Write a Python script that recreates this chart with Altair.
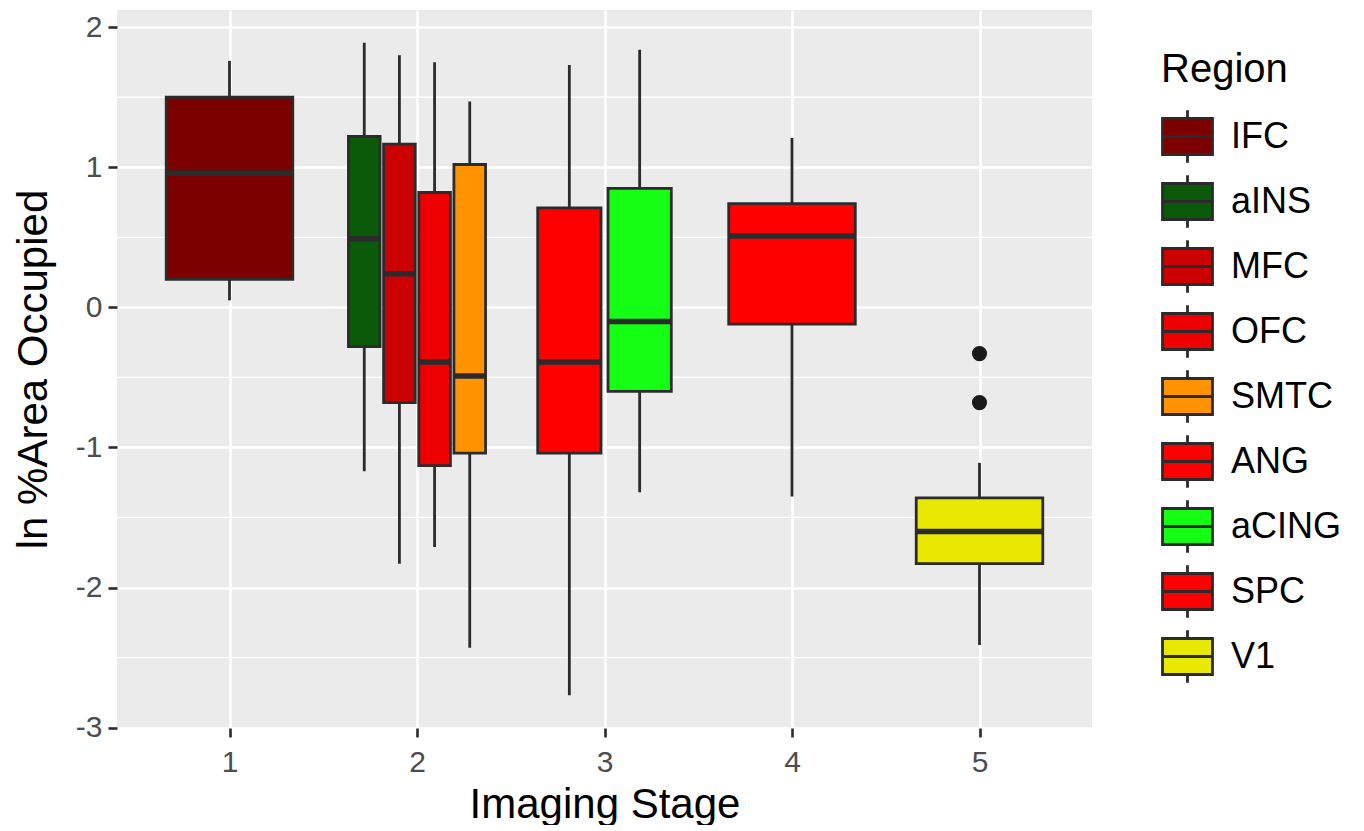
import altair as alt
import pandas as pd

# ---- data ----
regions = ["IFC", "aINS", "MFC", "OFC", "SMTC", "ANG", "aCING", "SPC", "V1"]
stages = [1, 2, 2, 2, 2, 3, 3, 4, 5]
whisker_lo = [0.05, -1.17, -1.83, -1.71, -2.43, -2.77, -1.32, -1.35, -2.41]
q1 = [0.20, -0.28, -0.68, -1.13, -1.04, -1.04, -0.60, -0.12, -1.83]
median = [0.96, 0.49, 0.24, -0.39, -0.49, -0.39, -0.10, 0.51, -1.60]
q3 = [1.50, 1.22, 1.165, 0.82, 1.02, 0.71, 0.85, 0.74, -1.36]
whisker_hi = [1.76, 1.89, 1.80, 1.75, 1.47, 1.73, 1.84, 1.21, -1.11]
outlier_region = ["V1", "V1"]
outlier_value = [-0.33, -0.68]
colors = ["#7d0000", "#0a5a0a", "#cc0000", "#ee0000", "#ff9400",
          "#ff0000", "#14ff14", "#ff0000", "#e8e800"]
stage_ticks = [1, 2, 3, 4, 5]
y_ticks = [-3, -2, -1, 0, 1, 2]
y_minor = [-2.5, -1.5, -0.5, 0.5, 1.5]

# ---- dodge positions (ggplot-like dodge2, width 0.75, padding 0.1) ----
df = pd.DataFrame({"Region": regions, "stage": stages, "lo": whisker_lo,
                   "q1": q1, "med": median, "q3": q3, "hi": whisker_hi})
df["n"] = df.groupby("stage")["Region"].transform("count")
df["i"] = df.groupby("stage").cumcount()
slot = 0.75 / df["n"]
df["xc"] = df["stage"] - 0.375 + slot * (df["i"] + 0.5)
df["x0"] = df["xc"] - slot * 0.45
df["x1"] = df["xc"] + slot * 0.45

out = pd.DataFrame({"Region": outlier_region, "v": outlier_value})
out = out.merge(df[["Region", "xc"]], on="Region")

minor = pd.DataFrame({"y": y_minor})

FONT = "Liberation Sans"
DARK = "#2b2b2b"

xscale = alt.Scale(domain=[0.4, 5.6], nice=False, zero=False)
yscale = alt.Scale(domain=[-3.003, 2.123], nice=False, zero=False)

xaxis = alt.Axis(values=stage_ticks, labelExpr="toString(datum.value)",
                 title="Imaging Stage", labelPadding=10, titlePadding=7)
yaxis = alt.Axis(values=y_ticks, labelExpr="toString(datum.value)",
                 title="ln %Area Occupied", labelPadding=6, titlePadding=20)

glyph = ("M-1,-0.72H1V0.72H-1Z M0,-0.72V-1.05 M0,0.72V1.05 M-1,0H1")

grid = alt.Chart(minor).mark_rule(color="white", strokeWidth=1.3).encode(
    y=alt.Y("y:Q", scale=yscale, axis=yaxis)
)

whisk = alt.Chart(df).mark_rule(color=DARK, strokeWidth=2.8).encode(
    x=alt.X("xc:Q", scale=xscale, axis=xaxis),
    y=alt.Y("lo:Q", scale=yscale, axis=yaxis),
    y2="hi:Q",
)

box = alt.Chart(df).mark_rect(stroke=DARK, strokeWidth=2.8).encode(
    x=alt.X("x0:Q", scale=xscale, axis=xaxis),
    x2="x1:Q",
    y=alt.Y("q1:Q", scale=yscale, axis=yaxis),
    y2="q3:Q",
    fill=alt.Fill(
        "Region:N",
        scale=alt.Scale(domain=regions, range=colors),
        sort=regions,
        legend=alt.Legend(
            title="Region", orient="none", legendX=1044, legendY=40,
            symbolType=glyph, symbolSize=2500,
            symbolStrokeColor=DARK, symbolStrokeWidth=2.8,
            symbolOpacity=1,
            labelFontSize=36, labelFont=FONT, labelColor="black",
            titleFontSize=40, titleFont=FONT, titleColor="black",
            titleFontWeight="normal", titlePadding=20,
            rowPadding=0, labelOffset=17, padding=0,
        ),
    ),
)

med = alt.Chart(df).mark_rule(color=DARK, strokeWidth=5.5).encode(
    x=alt.X("x0:Q", scale=xscale, axis=xaxis),
    x2="x1:Q",
    y=alt.Y("med:Q", scale=yscale, axis=yaxis),
)

pts = alt.Chart(out).mark_circle(color="#1a1a1a", opacity=1, size=230).encode(
    x=alt.X("xc:Q", scale=xscale, axis=xaxis),
    y=alt.Y("v:Q", scale=yscale, axis=yaxis),
)

chart = (
    alt.layer(grid, whisk, box, med, pts)
    .properties(width=975, height=718,
                padding={"left": 12, "top": 10, "right": 0, "bottom": 0})
    .configure_view(fill="#ebebeb", stroke=None)
    .configure_axis(
        domain=False,
        grid=True, gridColor="white", gridWidth=2.6,
        tickColor=DARK, tickWidth=2.6, tickSize=9,
        labelFont=FONT, labelFontSize=30, labelColor="#4d4d4d",
        titleFont=FONT, titleFontSize=42, titleColor="black",
        titleFontWeight="normal",
    )
)

chart.save("out.html", embed_options={"renderer": "svg", "actions": False})
